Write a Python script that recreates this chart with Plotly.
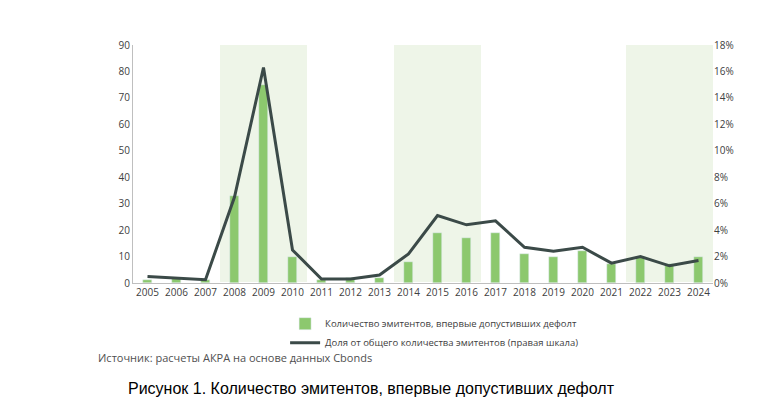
import plotly.graph_objects as go

years = [str(y) for y in range(2005, 2025)]
issuers = [1, 2, 1, 33, 75, 10, 1, 2, 2, 8, 19, 17, 19, 11, 10, 12, 7, 10, 7, 10]
share_pct = [0.5, 0.35, 0.25, 6.5, 16.3, 2.5, 0.3, 0.3, 0.6, 2.2, 5.1, 4.4, 4.7, 2.7, 2.4, 2.7, 1.5, 2.0, 1.3, 1.7]
crisis_ranges = [("2008", "2010"), ("2014", "2016"), ("2022", "2024")]

font = "Open Sans"
fig = go.Figure()
fig.add_bar(x=years, y=issuers, name="Количество эмитентов, впервые допустивших дефолт",
            marker_color="#8cc86e", width=0.33)
fig.add_scatter(x=years, y=share_pct, yaxis="y2", mode="lines",
                name="Доля от общего количества эмитентов (правая шкала)",
                line=dict(color="#3b4a48", width=3))

for a, b in crisis_ranges:
    fig.add_shape(type="rect", xref="x", yref="paper", layer="below", line_width=0,
                  x0=years.index(a) - 0.5, x1=years.index(b) + 0.5, y0=0, y1=1,
                  fillcolor="#eef5e8")

fig.update_layout(
    width=761, height=400, plot_bgcolor="white", paper_bgcolor="white",
    margin=dict(l=125, r=56, t=37, b=125, autoexpand=False),
    font=dict(family=font, size=10, color="#404040"),
    bargap=0,
    xaxis=dict(type="category", showline=True, linecolor="#bfbfbf", ticks="",
               tickfont=dict(size=10), range=[-0.5, 19.5]),
    yaxis=dict(range=[0, 90], dtick=10, showgrid=False, showline=True, linecolor="#bfbfbf",
               ticks="", tickfont=dict(size=10)),
    yaxis2=dict(range=[0, 18], dtick=2, overlaying="y", side="right", showgrid=False,
                ticksuffix="%", tickfont=dict(size=10)),
    legend=dict(orientation="h", x=0.52, xanchor="center", y=-0.11, yanchor="top",
                font=dict(size=9.5), traceorder="normal", itemwidth=30),
    showlegend=True,
)
fig.add_annotation(text="Источник: расчеты АКРА на основе данных Cbonds", xref="paper", yref="paper",
                   x=-0.064, y=-0.315, xanchor="left", yanchor="middle", showarrow=False,
                   font=dict(size=11, color="#505050", family=font))
fig.add_annotation(text="Рисунок 1. Количество эмитентов, впервые допустивших дефолт", xref="paper", yref="paper",
                   x=-0.012, y=-0.445, xanchor="left", yanchor="middle", showarrow=False,
                   font=dict(size=16, color="#000000", family="Liberation Sans"))
fig.write_html("out.html")
